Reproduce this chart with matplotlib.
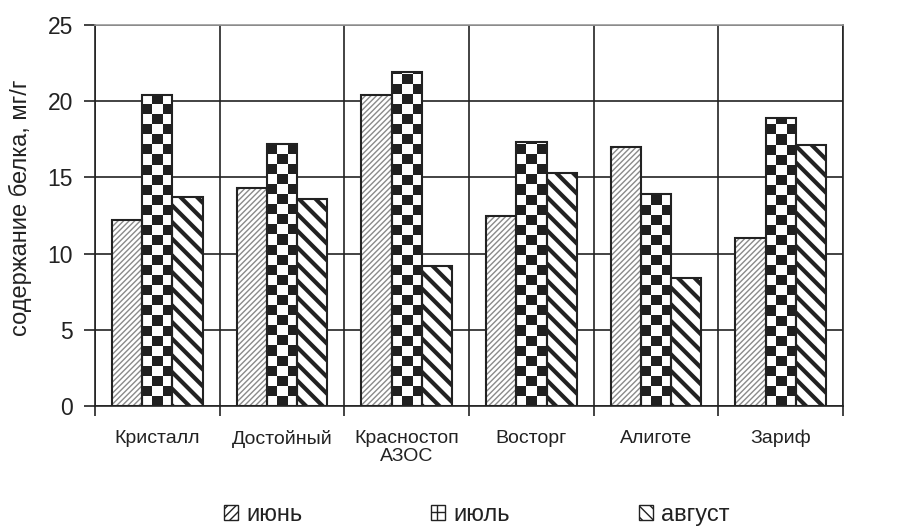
import numpy as np
import matplotlib
matplotlib.use("Agg")
import matplotlib.pyplot as plt
from matplotlib.patches import Rectangle

plt.rcParams['font.family'] = ['Liberation Sans', 'DejaVu Sans']

# data
varieties = ["Кристалл", "Достойный", "Красностоп\nАЗОС", "Восторг", "Алиготе", "Зариф"]
june = [12.2, 14.3, 20.4, 12.5, 17.0, 11.0]
july = [20.4, 17.2, 21.9, 17.3, 13.9, 18.9]
august = [13.7, 13.6, 9.2, 15.3, 8.4, 17.1]
series_names = ["июнь", "июль", "август"]
y_ticks = [0, 5, 10, 15, 20, 25]

INK = '#222222'

fig = plt.figure(figsize=(8.98, 5.29), dpi=100)
ax = fig.add_axes([0.1058, 0.2325, 0.833, 0.72])

x = np.arange(len(varieties))
w = 0.243

# июнь: fine grey diagonal hatch
ax.bar(x - w, june, w, color='white', edgecolor='#8a8a8a', hatch='//////', linewidth=0, zorder=3)
ax.bar(x - w, june, w, fill=False, edgecolor=INK, linewidth=1.5, zorder=4)

# июль: checkerboard drawn as clipped image
cell_y = 0.66
for xi, v in zip(x, july):
    rows = int(np.ceil(v / cell_y)) + 1
    board = (np.indices((rows, 3)).sum(axis=0) % 2).astype(float)
    rect = Rectangle((xi - w / 2, 0), w, v, transform=ax.transData)
    im = ax.imshow(board, cmap='gray_r', vmin=0, vmax=1.15, origin='lower',
                   extent=(xi - w / 2, xi + w / 2, 0, rows * cell_y),
                   interpolation='nearest', aspect='auto', zorder=3)
    im.set_clip_path(rect)
ax.bar(x, july, w, fill=False, edgecolor=INK, linewidth=1.5, zorder=4)

# август: thick diagonal hatch
plt.rcParams['hatch.linewidth'] = 3.0
ax.bar(x + w, august, w, color='white', edgecolor=INK, hatch='\\\\', linewidth=0, zorder=3)
ax.bar(x + w, august, w, fill=False, edgecolor=INK, linewidth=1.5, zorder=4)

ax.set_xlim(-0.5, len(varieties) - 0.5)
ax.set_ylim(0, 25)
ax.set_aspect('auto')
ax.set_yticks(y_ticks)
ax.tick_params(axis='y', labelsize=16.5, length=8, width=1.2, pad=8, color=INK, labelcolor=INK)
ax.set_xticks(x)
ax.set_xticklabels(varieties, fontsize=14, color=INK, linespacing=1.1)
ax.tick_params(axis='x', which='major', length=0, pad=17)
ax.set_xticks(np.arange(len(varieties) + 1) - 0.5, minor=True)
ax.tick_params(axis='x', which='minor', length=7, width=1.2, color=INK)

ax.grid(axis='y', color=INK, linewidth=1.2, zorder=0)
ax.grid(axis='x', which='minor', color=INK, linewidth=1.2, zorder=0)
ax.set_axisbelow(True)
for s in ['left', 'bottom', 'right']:
    ax.spines[s].set_color(INK)
    ax.spines[s].set_linewidth(1.2)
ax.spines['top'].set_color('#999999')
ax.spines['top'].set_linewidth(1.2)

ax.set_ylabel("содержание белка, мг/г", fontsize=17, color=INK)
ax.yaxis.set_label_coords(-0.084, 0.52)

# legend proxies
plt.rcParams['hatch.linewidth'] = 1.0
handles = [
    Rectangle((0, 0), 1, 1, facecolor='white', edgecolor=INK, hatch='////', linewidth=1),
    Rectangle((0, 0), 1, 1, facecolor='white', edgecolor=INK, hatch='++', linewidth=1),
    Rectangle((0, 0), 1, 1, facecolor='white', edgecolor=INK, hatch='\\\\\\', linewidth=1),
]
leg = fig.legend(handles, series_names, loc='lower center', bbox_to_anchor=(0.531, -0.035),
                 ncol=3, frameon=False, fontsize=17, handlelength=0.6, handleheight=0.6,
                 handletextpad=0.35, columnspacing=5.45)
for t in leg.get_texts():
    t.set_color(INK)

fig.savefig("out.png", dpi=100)
